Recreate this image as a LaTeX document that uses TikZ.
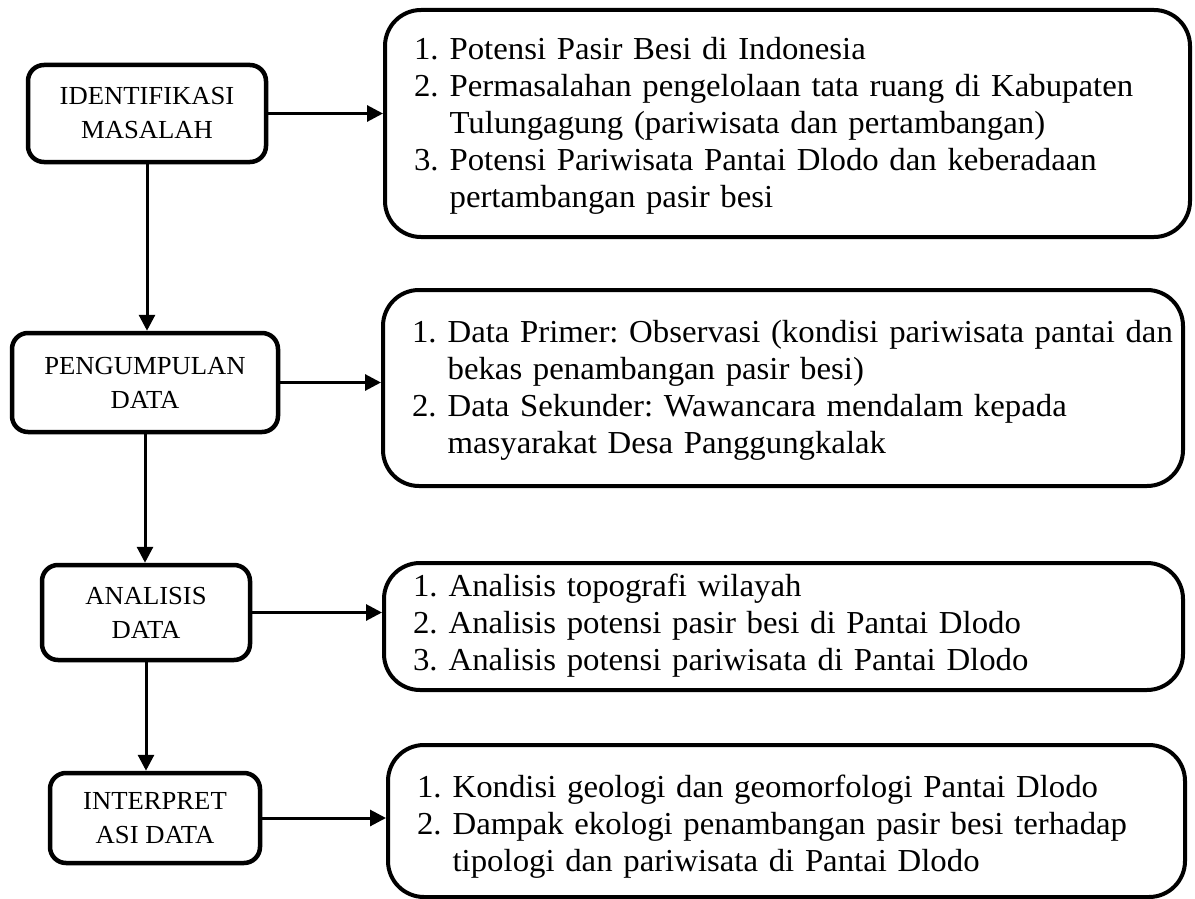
\documentclass[tikz,border=0pt]{standalone}
\usepackage{fontspec}
\setmainfont{Liberation Serif}[FakeStretch=1.025]
\usetikzlibrary{arrows.meta}
\frenchspacing
\tikzset{
  stagebox/.style={draw, line width=4.5pt, rounded corners=16pt, align=center,
    font=\fontsize{26}{34}\selectfont, inner sep=0pt},
  listbox/.style={draw, line width=4pt, rounded corners=36pt, align=left,
    font=\fontsize{32}{37}\selectfont, inner xsep=29pt, inner ysep=0pt},
  flow/.style={line width=3pt, -{Triangle[length=16pt,width=16pt]}}
}
\newcommand{\numlist}[2][0pt]{\raisebox{#1}[\height][\depth]{%
  \begin{tabular}{@{}l@{\hspace{11pt}}l@{}}#2\end{tabular}}}
\begin{document}
\begin{tikzpicture}[x=1pt, y=-1pt]
    \useasboundingbox (0,0) rectangle (1195,899);
    % Tahapan (kolom kiri)
    \node[stagebox, minimum width=238pt, minimum height=97pt] (ident) at (147,113.5)
        {IDENTIFIKASI\\MASALAH};
    \node[stagebox, minimum width=266pt, minimum height=99pt] (kumpul) at (145,382.5)
        {PENGUMPULAN\\DATA};
    \node[stagebox, minimum width=208pt, minimum height=95pt] (analisis) at (146,612.5)
        {ANALISIS\\DATA};
    \node[stagebox, minimum width=210pt, minimum height=90pt] (interp) at (155,818)
        {INTERPRET\\ASI DATA};
    % Rincian (kolom kanan)
    \node[listbox, minimum width=805pt, minimum height=227pt, text width=747pt] (rIdent) at (787.5,123.5)
        {\numlist[-3pt]{1. & Potensi Pasir Besi di Indonesia\\
        2. & Permasalahan pengelolaan tata ruang di Kabupaten\\
           & Tulungagung (pariwisata dan pertambangan)\\
        3. & Potensi Pariwisata Pantai Dlodo dan keberadaan\\
           & pertambangan pasir besi}};
    \node[listbox, minimum width=800pt, minimum height=196pt, text width=742pt] (rKumpul) at (783,388)
        {\numlist[-3pt]{1. & Data Primer: Observasi (kondisi pariwisata pantai dan\\
           & bekas penambangan pasir besi)\\
        2. & Data Sekunder: Wawancara mendalam kepada\\
           & masyarakat Desa Panggungkalak}};
    \node[listbox, minimum width=799pt, minimum height=127pt, text width=741pt] (rAnalisis) at (783.5,626.5)
        {\numlist{1. & Analisis topografi wilayah\\
        2. & Analisis potensi pasir besi di Pantai Dlodo\\
        3. & Analisis potensi pariwisata di Pantai Dlodo}};
    \node[listbox, minimum width=797pt, minimum height=152pt, text width=739pt] (rInterp) at (786.5,821)
        {\numlist[-6pt]{1. & Kondisi geologi dan geomorfologi Pantai Dlodo\\
        2. & Dampak ekologi penambangan pasir besi terhadap\\
           & tipologi dan pariwisata di Pantai Dlodo}};
    % Alur vertikal
    \draw[flow] (ident.south) -- (ident.south |- kumpul.north);
    \draw[flow] (kumpul.south) -- (kumpul.south |- analisis.north);
    \draw[flow] (analisis.south) -- (analisis.south |- interp.north);
    % Alur ke rincian
    \draw[flow] (ident.east) -- (ident.east -| rIdent.west);
    \draw[flow] (kumpul.east) -- (kumpul.east -| rKumpul.west);
    \draw[flow] (analisis.east) -- (analisis.east -| rAnalisis.west);
    \draw[flow] (interp.east) -- (interp.east -| rInterp.west);
\end{tikzpicture}
\end{document}
